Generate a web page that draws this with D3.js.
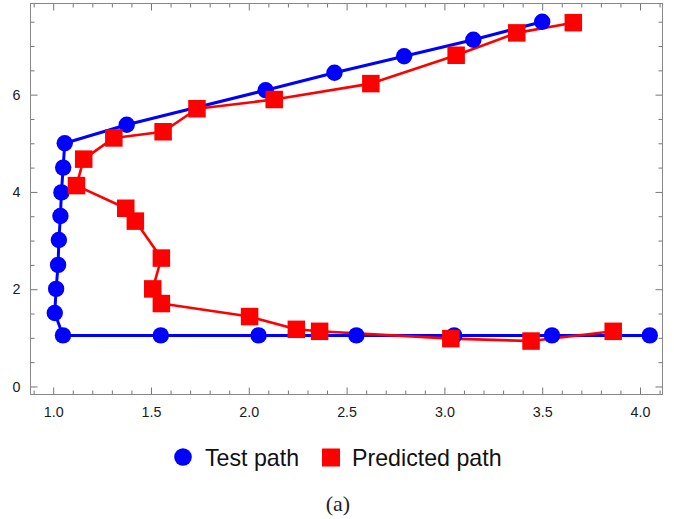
<!DOCTYPE html>
<html><head><meta charset="utf-8">
<script src="https://cdn.jsdelivr.net/npm/d3@7"></script>
<style>
html,body{margin:0;padding:0;background:#fff;}
svg{display:block;}
</style></head>
<body>
<svg id="chart" width="674" height="519"></svg>
<script>
// Test path
const testX = [4.05, 3.55, 3.05, 2.55, 2.05, 1.55, 1.05, 1.008, 1.015, 1.025, 1.029, 1.037, 1.042, 1.051, 1.059, 1.376, 2.086, 2.438, 2.794, 3.148, 3.50];
const testY = [1.05, 1.05, 1.05, 1.05, 1.05, 1.05, 1.05, 1.51, 2.006, 2.50, 3.01, 3.505, 3.99, 4.50, 5.00, 5.38, 6.09, 6.45, 6.79, 7.13, 7.50];
// Predicted path
const predX = [3.863, 3.443, 3.033, 2.362, 2.243, 2.004, 1.553, 1.509, 1.553, 1.420, 1.371, 1.119, 1.156, 1.31, 1.562, 1.735, 2.13, 2.624, 3.06, 3.37, 3.659];
const predY = [1.134, 0.934, 0.983, 1.134, 1.175, 1.437, 1.705, 2.006, 2.64, 3.40, 3.664, 4.13, 4.674, 5.11, 5.237, 5.71, 5.90, 6.227, 6.81, 7.27, 7.48];
const xTicks = [1.0, 1.5, 2.0, 2.5, 3.0, 3.5, 4.0];
const yTicks = [0, 2, 4, 6];
const seriesNames = ["Test path", "Predicted path"];
const seriesColors = ["#0000ff", "#ff0000"];
const caption = "(a)";

const L = 30.5, R = 662.5, T = 3.5, B = 394.5;
const svg = d3.select("#chart");
const x = d3.scaleLinear().domain([0.884, 4.115]).range([L, R]);
const y = d3.scaleLinear().domain([-0.165, 7.874]).range([B, T]);

const xMinor = d3.range(9, 42).map(d => d / 10).filter(v => !xTicks.some(t => Math.abs(t - v) < 1e-9));
const yMinor = d3.range(0, 16).map(d => d / 2).filter(v => !yTicks.includes(v));

const tickColor = "#777";
function styleAxis(g) {
  g.select(".domain").remove();
  g.selectAll(".tick line").attr("stroke", tickColor).attr("stroke-width", 1);
  g.selectAll(".tick text").attr("fill", "#1a1a1a").style("font-family", "'Liberation Sans', Arial, sans-serif").style("font-size", "14.3px");
}
const fmt = d3.format(".1f");
// bottom
svg.append("g").attr("transform", `translate(0,${B})`)
  .call(d3.axisBottom(x).tickValues(xTicks).tickSize(-7).tickPadding(12).tickFormat(fmt)).call(styleAxis);
svg.append("g").attr("transform", `translate(0,${B})`)
  .call(d3.axisBottom(x).tickValues(xMinor).tickSize(-4).tickFormat("")).call(styleAxis);
// top
svg.append("g").attr("transform", `translate(0,${T})`)
  .call(d3.axisTop(x).tickValues(xTicks).tickSize(-7).tickFormat("")).call(styleAxis);
svg.append("g").attr("transform", `translate(0,${T})`)
  .call(d3.axisTop(x).tickValues(xMinor).tickSize(-4).tickFormat("")).call(styleAxis);
// left
svg.append("g").attr("transform", `translate(${L},0)`)
  .call(d3.axisLeft(y).tickValues(yTicks).tickSize(-7).tickPadding(10).tickFormat(d3.format("d"))).call(styleAxis);
svg.append("g").attr("transform", `translate(${L},0)`)
  .call(d3.axisLeft(y).tickValues(yMinor).tickSize(-4).tickFormat("")).call(styleAxis);
// right
svg.append("g").attr("transform", `translate(${R},0)`)
  .call(d3.axisRight(y).tickValues(yTicks).tickSize(-7).tickFormat("")).call(styleAxis);
svg.append("g").attr("transform", `translate(${R},0)`)
  .call(d3.axisRight(y).tickValues(yMinor).tickSize(-4).tickFormat("")).call(styleAxis);

// frame
svg.append("rect").attr("x", L).attr("y", T).attr("width", R - L).attr("height", B - T)
  .attr("fill", "none").attr("stroke", "#888").attr("stroke-width", 1);

const test = testX.map((v, i) => [v, testY[i]]);
const pred = predX.map((v, i) => [v, predY[i]]);
const line = d3.line().x(d => x(d[0])).y(d => y(d[1]));

const plot = svg.append("g");
plot.append("path").attr("d", line(test)).attr("fill", "none").attr("stroke", seriesColors[0]).attr("stroke-width", 3).attr("stroke-linejoin", "round");
plot.append("path").attr("d", line(pred)).attr("fill", "none").attr("stroke", seriesColors[1]).attr("stroke-width", 2.6).attr("stroke-linejoin", "round");
plot.selectAll(".tc").data(test).join("circle").attr("cx", d => x(d[0])).attr("cy", d => y(d[1])).attr("r", 8.2).attr("fill", seriesColors[0]);
const s = 17.5;
plot.selectAll(".ps").data(pred).join("rect").attr("x", d => x(d[0]) - s / 2).attr("y", d => y(d[1]) - s / 2)
  .attr("width", s).attr("height", s).attr("fill", seriesColors[1]);

// legend
const lg = svg.append("g").style("font-family", "'Liberation Sans', Arial, sans-serif").style("font-size", "23.2px").attr("fill", "#111");
lg.append("circle").attr("cx", 183).attr("cy", 457).attr("r", 8.8).attr("fill", seriesColors[0]);
lg.append("text").attr("x", 205).attr("y", 465.5).text(seriesNames[0]);
lg.append("rect").attr("x", 322).attr("y", 448.5).attr("width", 18).attr("height", 18).attr("fill", seriesColors[1]);
lg.append("text").attr("x", 352).attr("y", 465.5).text(seriesNames[1]);

svg.append("text").attr("x", 338).attr("y", 511).attr("text-anchor", "middle")
  .style("font-family", "'Liberation Serif', 'DejaVu Serif', serif").style("font-size", "22px").attr("fill", "#222").text(caption);
</script>
</body></html>
